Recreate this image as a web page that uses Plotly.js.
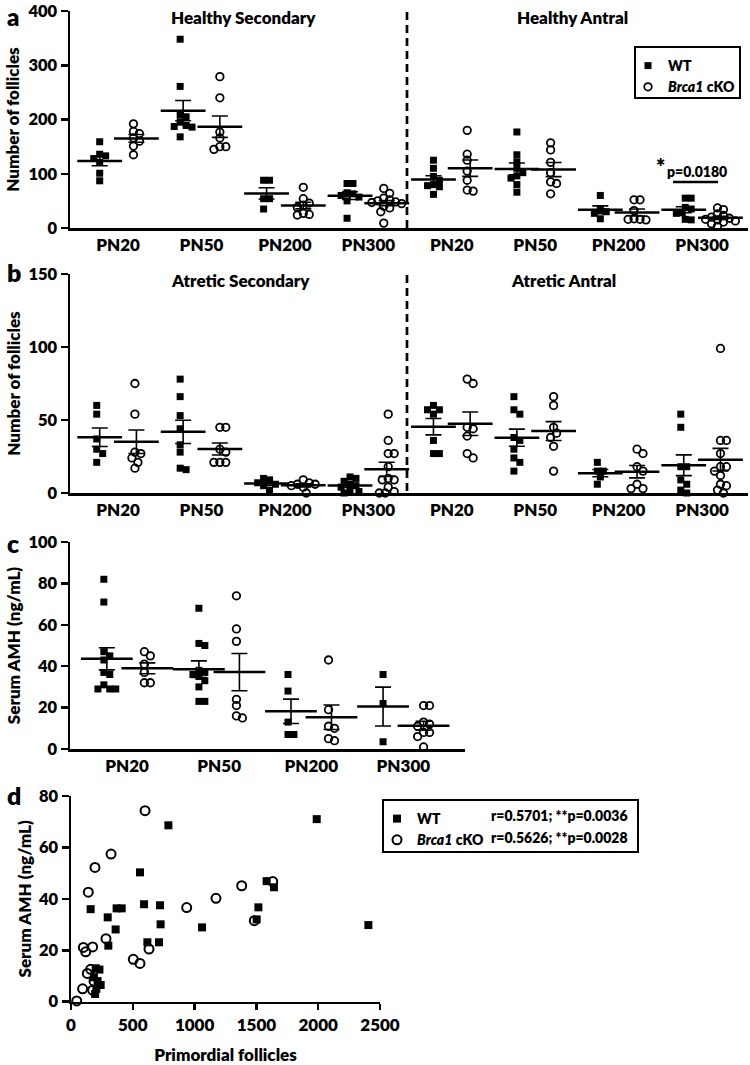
<!DOCTYPE html>
<html>
<head>
<meta charset="utf-8">
<script src="https://cdn.plot.ly/plotly-3.0.1.min.js"></script>
<style>
  html, body { margin: 0; padding: 0; background: #fff; }
  #chart { width: 750px; height: 1065px; }
</style>
</head>
<body>
<div id="chart"></div>
<script>
// ---- data ---------------------------------------------------------------
const ages = ['PN20', 'PN50', 'PN200', 'PN300'];

// (a) healthy follicles per ovary, one list per age
const healthySecWT  = [[159,136,133,128,121,101,87], [348,261,208,205,195,189,187,186,168], [88,88,54,54,35], [82,82,65,63,60,57,50,18]];
const healthySecKO  = [[192,178,174,166,160,151,135], [279,240,177,166,150,150,145], [75,54,46,42,38,27,25,24], [73,64,55,52,50,48,47,45,40,37,30,9]];
const healthyAntWT  = [[125,110,95,88,80,78,76,62], [177,135,122,110,102,96,92,80,66], [60,34,30,27,17], [55,55,38,35,28,27,16,15]];
const healthyAntKO  = [[180,136,125,105,88,70,68], [157,144,121,102,85,82,63], [52,52,32,17,16,16,15], [37,34,26,23,20,18,16,15,13,11,8,3]];

// (b) atretic follicles per ovary
const atreticSecWT  = [[60,54,37,30,27,21], [78,66,53,44,33,28,17,16], [10,9,7,6,5,2], [11,10,8,6,5,4,1,1,0]];
const atreticSecKO  = [[75,54,28,27,24,21,17], [45,45,30,28,21,21,21], [9,7,6,6,5,4,0], [54,36,27,27,18,10,9,9,4,1,0,0]];
const atreticAntWT  = [[60,57,57,54,36,27,27], [66,57,54,38,36,30,24,21,15], [21,15,15,11,6], [54,45,18,18,9,6,2,0]];
const atreticAntKO  = [[78,75,45,44,39,27,24], [66,60,45,41,38,32,15], [30,27,18,15,6,3,3], [99,36,36,27,18,18,15,12,6,5,2,0]];

// (c) serum AMH, ng/mL
const amhWT = [[82,71,47,45,43,37,36,31,29,29,29], [68,51,50,38,37,36,35,33,30,23,23], [36,28,13,7,7], [36,22,3.5]];
const amhKO = [[47,45,41,37,32,32], [74,58,52,24,21,16,15], [43,19,11,10,5,4], [21,21,13,12,11,8,8,6,1]];

// (d) primordial follicles vs serum AMH
const primWT = [1988,788,558,591,720,369,410,159,297,361,302,725,618,712,1060,1516,1502,1583,1642,2406,200,230,185,215,240,205,195];
const amhScatterWT = [71,68.6,50.3,37.9,37.5,36.3,36.3,36,32.8,28.1,21.8,30.1,23.1,23.1,28.9,36.7,32,46.9,44.5,29.8,13,12.5,9.5,8,6.5,5,3];
const primKO = [599,324,194,140,283,100,175,119,504,558,631,936,1173,1381,1632,1483,94,46,132,159,186,175];
const amhScatterKO = [74.3,57.4,52.2,42.6,24.5,21.1,21.3,19.4,16.5,14.9,20.5,36.6,40.2,45.1,46.7,31.5,5,0.3,11,12.6,8,4.5];

const corrWT = 'r=0.5701; **p=0.0036';
const corrKO = 'r=0.5626; **p=0.0028';

// ---- helpers --------------------------------------------------------------
const W = 750, H = 1065;
const fx = p => p / W;
const fy = p => 1 - p / H;
const FONT = 'Lato, "Open Sans", sans-serif';
const WEIGHT = 800;
const heavy = size => ({ family: FONT, size: size, color: '#000', weight: WEIGHT });
const hv = s => '<span style="font-weight:' + WEIGHT + '">' + s + '</span>';

// plot frames in page pixels plus data ranges
const frames = {
  a: { x: [70, 748], y: [11, 228],     xr: [0.424, 8.55], yr: [0, 400] },
  b: { x: [70, 748], y: [274, 493],    xr: [0.424, 8.55], yr: [0, 150] },
  c: { x: [70, 465], y: [542, 749],    xr: [0.38, 4.67],  yr: [0, 100] },
  d: { x: [71, 380], y: [796, 1001.7], xr: [0, 2500],     yr: [0, 80] }
};
const scale = f => ({
  sx: (f.x[1] - f.x[0]) / (f.xr[1] - f.xr[0]),
  sy: (f.y[1] - f.y[0]) / (f.yr[1] - f.yr[0])
});

const mean = a => a.reduce((s, v) => s + v, 0) / a.length;
const sem = a => {
  const m = mean(a);
  const sd = Math.sqrt(a.reduce((s, v) => s + (v - m) * (v - m), 0) / (a.length - 1));
  return sd / Math.sqrt(a.length);
};

// scatter-dot layout: each point takes the nearest free horizontal slot
function swarm(vals, sy, step) {
  const order = vals.map((v, i) => i).sort((p, q) => vals[q] - vals[p]);
  const off = new Array(vals.length).fill(0);
  const placed = [];
  const half = step / 2;
  order.forEach(idx => {
    const y = vals[idx] * sy;
    for (let k = 0; ; k++) {
      const m = Math.ceil(k / 2) * half * (k % 2 ? 1 : -1);
      if (placed.every(p => Math.hypot(p.x - m, p.y - y) >= step)) {
        placed.push({ x: m, y: y }); off[idx] = m; break;
      }
    }
  });
  const lo = Math.min(...off), hi = Math.max(...off);
  return off.map(o => o - (lo + hi) / 2);
}

const SIDE = 0.22;
const traces = [];

function addGroups(groups, frame, xa, ya, isWT, opts) {
  const sc = scale(frame);
  const size = opts.size;
  const xs = [], ys = [], mx = [], my = [], me = [];
  groups.forEach((vals, g) => {
    const c = g + 1 + (isWT ? -SIDE : SIDE);
    const off = swarm(vals, sc.sy, size * 0.85);
    vals.forEach((v, i) => { xs.push(c + off[i] / sc.sx); ys.push(v); });
    mx.push(c); my.push(mean(vals)); me.push(sem(vals));
  });
  traces.push({
    type: 'scatter', mode: 'markers', x: xs, y: ys, xaxis: xa, yaxis: ya,
    name: isWT ? hv('WT') : hv('<i>Brca1</i> cKO'),
    showlegend: !!opts.legend, legend: opts.legend || 'legend',
    cliponaxis: false, hoverinfo: 'skip',
    marker: isWT
      ? { symbol: 'square', size: size, color: '#000', line: { width: 0 } }
      : { symbol: 'circle-open', size: size + 0.5, color: '#000', line: { width: 1.8, color: '#000' } }
  });
  traces.push({
    type: 'scatter', mode: 'markers', x: mx, y: my, xaxis: xa, yaxis: ya,
    showlegend: false, cliponaxis: false, hoverinfo: 'skip',
    marker: { symbol: 'line-ew', size: opts.meanLen, color: '#000', line: { width: 2.5, color: '#000' } },
    error_y: { type: 'data', array: me, visible: true, color: '#000', thickness: 1.6, width: 8 }
  });
}

// (a) and (b): secondary groups 1-4, antral groups 5-8
addGroups(healthySecWT.concat(healthyAntWT), frames.a, 'x', 'y', true,  { size: 7, meanLen: 32, legend: 'legend' });
addGroups(healthySecKO.concat(healthyAntKO), frames.a, 'x', 'y', false, { size: 7, meanLen: 32, legend: 'legend' });
addGroups(atreticSecWT.concat(atreticAntWT), frames.b, 'x2', 'y2', true,  { size: 7, meanLen: 32 });
addGroups(atreticSecKO.concat(atreticAntKO), frames.b, 'x2', 'y2', false, { size: 7, meanLen: 32 });
// (c)
addGroups(amhWT, frames.c, 'x3', 'y3', true,  { size: 7, meanLen: 37 });
addGroups(amhKO, frames.c, 'x3', 'y3', false, { size: 7, meanLen: 37 });

// (d) correlation scatter
traces.push({
  type: 'scatter', mode: 'markers', x: primWT, y: amhScatterWT, xaxis: 'x4', yaxis: 'y4',
  name: hv('WT'), legend: 'legend2', cliponaxis: false, hoverinfo: 'skip',
  marker: { symbol: 'square', size: 8, color: '#000', line: { width: 0 } }
});
traces.push({
  type: 'scatter', mode: 'markers', x: primKO, y: amhScatterKO, xaxis: 'x4', yaxis: 'y4',
  name: hv('<i>Brca1</i> cKO'), legend: 'legend2', cliponaxis: false, hoverinfo: 'skip',
  marker: { symbol: 'circle-open', size: 9, color: '#000', line: { width: 2, color: '#000' } }
});

// ---- axes -----------------------------------------------------------------
function catAxis(f, labels, anchor) {
  return {
    anchor: anchor,
    domain: [fx(f.x[0]), fx(f.x[1])], range: f.xr, showgrid: false, zeroline: false,
    showline: true, linecolor: '#000', linewidth: 2.5,
    tickvals: labels.map((l, i) => i + 1), ticktext: labels.map(hv), ticks: '',
    tickfont: heavy(17), fixedrange: true
  };
}
function valAxis(f, dtick, title, standoff, anchor) {
  return {
    anchor: anchor,
    domain: [fy(f.y[1]), fy(f.y[0])], range: f.yr, dtick: dtick, showgrid: false, zeroline: false,
    showline: true, linecolor: '#000', linewidth: 2.5,
    ticks: 'outside', ticklen: 7, tickwidth: 2.5, tickcolor: '#000',
    tickfont: heavy(16.5), ticklabeloverflow: 'allow', fixedrange: true,
    title: { text: hv(title), font: heavy(17), standoff: standoff }
  };
}

const divider = (y0, y1) => ({
  type: 'line', xref: 'paper', yref: 'paper', x0: fx(407), x1: fx(407), y0: fy(y0), y1: fy(y1),
  line: { color: '#000', width: 2.7, dash: '8px,5px' }
});
const paperNote = (text, x, y, size, xanchor) => ({
  text: hv(text), x: fx(x), y: fy(y), xref: 'paper', yref: 'paper',
  xanchor: xanchor || 'center', yanchor: 'middle', showarrow: false, font: heavy(size)
});

const layout = {
  width: W, height: H,
  margin: { l: 0, r: 0, t: 0, b: 0 },
  paper_bgcolor: '#fff', plot_bgcolor: 'rgba(0,0,0,0)',
  font: heavy(15),
  showlegend: true,
  xaxis:  catAxis(frames.a, ages.concat(ages), 'y'),
  yaxis:  valAxis(frames.a, 100, 'Number of follicles', 4, 'x'),
  xaxis2: catAxis(frames.b, ages.concat(ages), 'y2'),
  yaxis2: valAxis(frames.b, 50, 'Number of follicles', 4, 'x2'),
  xaxis3: catAxis(frames.c, ages, 'y3'),
  yaxis3: valAxis(frames.c, 20, 'Serum AMH (ng/mL)', 4, 'x3'),
  xaxis4: {
    anchor: 'y4',
    domain: [fx(frames.d.x[0]), fx(frames.d.x[1])], range: frames.d.xr, dtick: 500,
    showgrid: false, zeroline: false, showline: true, linecolor: '#000', linewidth: 2.5,
    ticks: 'outside', ticklen: 6, tickwidth: 2.5, tickcolor: '#000', tickfont: heavy(17),
    ticklabeloverflow: 'allow',
    title: { text: hv('Primordial follicles'), font: heavy(17), standoff: 20 }, fixedrange: true
  },
  yaxis4: valAxis(frames.d, 20, 'Serum AMH (ng/mL)', 2, 'x4'),
  legend: {
    x: fx(628), y: fy(50), xanchor: 'left', yanchor: 'top',
    bgcolor: 'rgba(0,0,0,0)', borderwidth: 0, font: heavy(14), itemwidth: 30, tracegroupgap: 0
  },
  legend2: {
    x: fx(377), y: fy(803), xanchor: 'left', yanchor: 'top',
    bgcolor: 'rgba(0,0,0,0)', borderwidth: 0, font: heavy(14), itemwidth: 30, tracegroupgap: 0
  },
  shapes: [
    // divider between secondary and antral groups
    divider(12, 228),
    divider(275, 493),
    // legend frames
    { type: 'rect', xref: 'paper', yref: 'paper', x0: fx(635), x1: fx(740), y0: fy(47), y1: fy(98),
      line: { color: '#000', width: 2 } },
    { type: 'rect', xref: 'paper', yref: 'paper', x0: fx(383), x1: fx(638), y0: fy(800), y1: fy(852),
      line: { color: '#000', width: 2 } },
    // significance bar over PN300 antral
    { type: 'line', xref: 'paper', yref: 'paper', x0: fx(673), x1: fx(718), y0: fy(182), y1: fy(182),
      line: { color: '#000', width: 2.5 } }
  ],
  annotations: [
    paperNote('a', 5, 16, 24, 'left'),
    paperNote('b', 5, 272, 25, 'left'),
    paperNote('c', 5, 543, 25, 'left'),
    paperNote('d', 5, 795, 25, 'left'),
    paperNote('Healthy Secondary', 243, 17, 17),
    paperNote('Healthy Antral', 572, 17, 17),
    paperNote('Atretic Secondary', 240, 280, 17),
    paperNote('Atretic Antral', 563, 280, 17),
    paperNote('*', 660, 167, 22),
    paperNote('p=0.0180', 697, 172, 14),
    paperNote(corrWT, 630, 815, 14, 'right'),
    paperNote(corrKO, 630, 837, 14, 'right')
  ]
};

Plotly.newPlot('chart', traces, layout, { staticPlot: true, displayModeBar: false });
</script>
</body>
</html>
